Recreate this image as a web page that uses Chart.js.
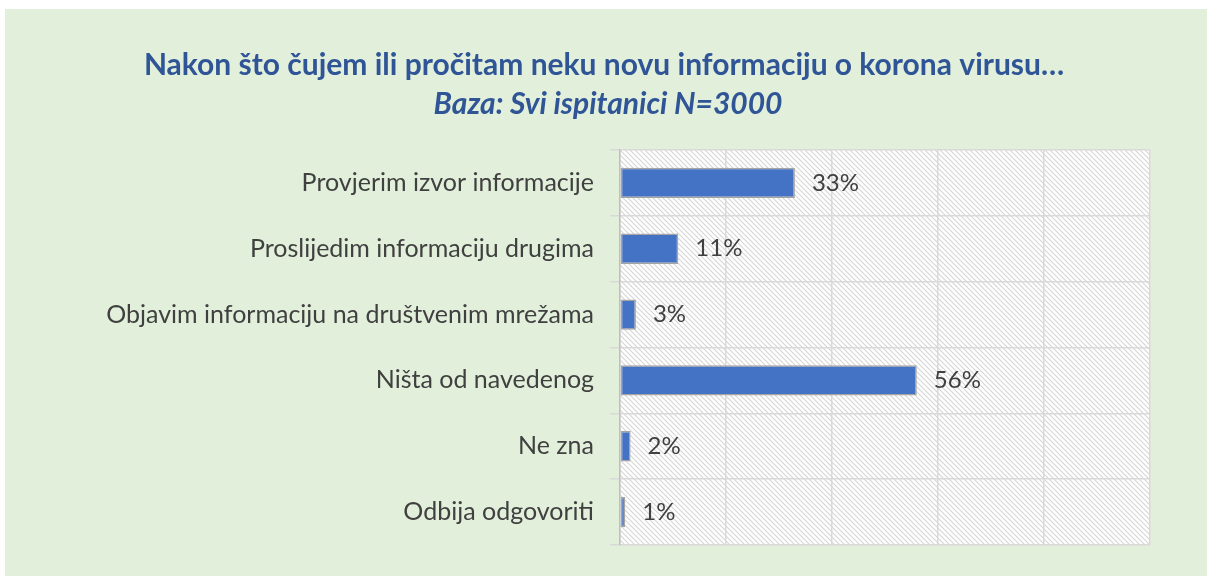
<!DOCTYPE html>
<html>
<head>
<meta charset="utf-8">
<script src="https://cdn.jsdelivr.net/npm/chart.js@4.4.0/dist/chart.umd.min.js"></script>
<style>
  html, body { margin: 0; padding: 0; background: #fff; }
  #wrap { width: 1207px; height: 576px; position: relative; }
</style>
</head>
<body>
<div id="wrap"><canvas id="myChart" width="1207" height="576"></canvas></div>
<script>
// data
var categories = [
    'Provjerim izvor informacije',
    'Proslijedim informaciju drugima',
    'Objavim informaciju na društvenim mrežama',
    'Ništa od navedenog',
    'Ne zna',
    'Odbija odgovoriti'
];
var values = [33, 11, 3, 56, 2, 1];
var axisMax = 100;
var titleText = 'Nakon što čujem ili pročitam neku novu informaciju o korona virusu…';
var subtitleText = 'Baza: Svi ispitanici N=3000';

var FONT = 'Lato, "Open Sans", sans-serif';

function makeHatch() {
    // small diagonal hatch tile for the plot background
    let c = document.createElement('canvas');
    c.width = 5;
    c.height = 5;
    let g = c.getContext('2d');
    g.fillStyle = '#ffffff';
    g.fillRect(0, 0, 5, 5);
    g.strokeStyle = '#d6d6d6';
    g.lineWidth = 1.2;
    g.beginPath();
    g.moveTo(-1, -1); g.lineTo(6, 6);
    g.moveTo(-1, 4); g.lineTo(1, 6);
    g.moveTo(4, -1); g.lineTo(6, 1);
    g.stroke();
    return g.createPattern(c, 'repeat');
}

var backgroundPlugin = {
    id: 'bg',
    beforeDraw: function (chart) {
        let ctx = chart.ctx;
        let a = chart.chartArea;
        ctx.save();
        ctx.fillStyle = '#ffffff';
        ctx.fillRect(0, 0, chart.width, chart.height);
        ctx.fillStyle = '#e2efda';
        ctx.fillRect(5, 9, chart.width - 5, chart.height - 9);
        ctx.fillStyle = makeHatch();
        ctx.fillRect(a.left, a.top, a.right - a.left, a.bottom - a.top);
        // titles
        ctx.fillStyle = '#2f5597';
        ctx.textAlign = 'center';
        ctx.textBaseline = 'alphabetic';
        ctx.font = 'bold 30px ' + FONT;
        ctx.fillText(titleText, 604, 75);
        ctx.font = 'italic bold 30px ' + FONT;
        ctx.fillText(subtitleText, 608, 114);
        ctx.restore();
    }
};

var valueLabelPlugin = {
    id: 'valueLabels',
    afterDatasetsDraw: function (chart) {
        let ctx = chart.ctx;
        let meta = chart.getDatasetMeta(0);
        ctx.save();
        ctx.fillStyle = '#404040';
        ctx.font = '24px ' + FONT;
        ctx.textAlign = 'left';
        ctx.textBaseline = 'middle';
        meta.data.forEach(function (bar, i) {
            ctx.fillText(values[i] + '%', bar.x + 17, bar.y);
        });
        ctx.restore();
    }
};

const ctx = document.getElementById('myChart').getContext('2d');
var myChart = new Chart(ctx, {
    type: 'bar',
    data: {
        labels: categories,
        datasets: [
            {
                data: values,
                backgroundColor: '#4472c4',
                borderColor: '#a5a5a5',
                borderWidth: 1.5,
                borderSkipped: false,
                categoryPercentage: 1,
                barPercentage: 0.46
            }
        ]
    },
    options: {
        indexAxis: 'y',
        responsive: false,
        animation: false,
        layout: {
            padding: { left: 0, top: 150, right: 57, bottom: 29 }
        },
        plugins: {
            legend: { display: false },
            tooltip: { enabled: false }
        },
        scales: {
            x: {
                min: 0,
                max: axisMax,
                ticks: { display: false, stepSize: 20 },
                grid: { color: '#d9d9d9', lineWidth: 1.5, drawTicks: false },
                border: { display: false }
            },
            y: {
                afterFit: function (scale) { scale.width = 620; },
                ticks: {
                    color: '#404040',
                    font: { family: FONT, size: 25 },
                    padding: 16
                },
                grid: { color: '#d9d9d9', lineWidth: 1.5, tickLength: 10 },
                border: { display: true, color: '#bfbfbf', width: 1.5 }
            }
        }
    },
    plugins: [backgroundPlugin, valueLabelPlugin]
});
</script>
</body>
</html>
